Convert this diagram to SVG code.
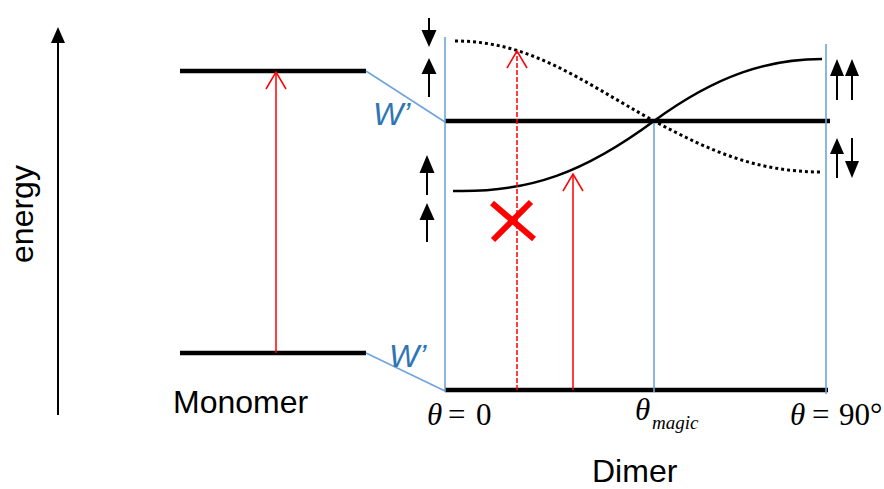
<svg xmlns="http://www.w3.org/2000/svg" width="884" height="489" viewBox="0 0 884 489">
<style>
.lvl{stroke:#000;stroke-width:4.5;fill:none}
.blue{stroke:#6fa4db;stroke-width:1.6;fill:none}
.red{stroke:#ff0000;stroke-width:1.5;fill:none}
.spin{stroke:#000;stroke-width:2;fill:none}
.head{fill:#000}
.lab{font-family:"Liberation Sans",Arial,sans-serif;font-size:32px;fill:#000}
.w{font-family:"Liberation Sans",Arial,sans-serif;font-style:italic;font-size:32px;fill:#2e75b6}
.th{font-family:"Liberation Serif","Times New Roman",serif;font-size:31px;fill:#000}
.it{font-style:italic}
</style>
<g id="axis">
<line x1="58" y1="415" x2="58" y2="40" class="spin"/>
<polygon points="58,27 51,43 65,43" class="head"/>
<text class="lab" transform="translate(33,214) rotate(-90)" text-anchor="middle">energy</text>
</g>
<g id="monomer">
<line x1="180" y1="71" x2="366" y2="71" class="lvl"/>
<line x1="180" y1="353" x2="366" y2="353" class="lvl"/>
<text class="lab" x="173" y="413">Monomer</text>
</g>
<g id="dimer-levels">
<line x1="445" y1="121" x2="830" y2="121" class="lvl"/>
<line x1="445" y1="390" x2="828" y2="390" class="lvl"/>
</g>
<g id="connectors">
<line x1="366" y1="71" x2="445" y2="122" class="blue"/>
<line x1="366" y1="353" x2="445" y2="391" class="blue"/>
<line x1="445" y1="37" x2="445" y2="392" class="blue"/>
<line x1="654" y1="123" x2="654" y2="392" class="blue"/>
<line x1="826" y1="44" x2="826" y2="394" class="blue"/>
</g>
<g id="labels-w">
<text class="w" x="373" y="125">W’</text>
<text class="w" x="389" y="367">W’</text>
</g>
<g id="curves">
<path d="M453,191 C530,193 585,172 654,121 C718,74 770,59 822,59" stroke="#000" stroke-width="2.5" fill="none"/>
<path d="M455,41 C530,41 580,80 654,121 C712,152 758,172 822,172" stroke="#000" stroke-width="3" stroke-dasharray="3 3" fill="none"/>
</g>
<g id="transitions">
<line x1="276" y1="353" x2="276" y2="72" class="red"/>
<polyline points="266,89 276,72 286,89" class="red"/>
<line x1="517" y1="390" x2="517" y2="51" class="red" stroke-dasharray="5 2"/>
<polyline points="507,68 517,51 527,68" class="red"/>
<line x1="573" y1="390" x2="573" y2="174" class="red"/>
<polyline points="563,191 573,174 583,191" class="red"/>
<g id="cross" stroke="#ff0000" stroke-width="6">
<line x1="492" y1="203" x2="534" y2="239"/>
<line x1="531" y1="202" x2="493" y2="240"/>
</g>
</g>
<g id="spins-left">
<line x1="429" y1="18" x2="429" y2="32" class="spin"/>
<polygon points="429,47 421.5,30 436.5,30" class="head"/>
<polygon points="429,58 421.5,74 436.5,74" class="head"/>
<line x1="429" y1="72" x2="429" y2="97" class="spin"/>
<polygon points="427,155 419.5,173 434.5,173" class="head"/>
<line x1="427" y1="171" x2="427" y2="195" class="spin"/>
<polygon points="427,203 419.5,220 434.5,220" class="head"/>
<line x1="427" y1="218" x2="427" y2="242" class="spin"/>
</g>
<g id="spins-right">
<polygon points="837,59 830,76 844,76" class="head"/>
<line x1="837" y1="74" x2="837" y2="100" class="spin"/>
<polygon points="852,59 845,76 859,76" class="head"/>
<line x1="852" y1="74" x2="852" y2="100" class="spin"/>
<polygon points="837,138 830,154 844,154" class="head"/>
<line x1="837" y1="152" x2="837" y2="178" class="spin"/>
<line x1="852" y1="138" x2="852" y2="163" class="spin"/>
<polygon points="852,178 845,161 859,161" class="head"/>
</g>
<g id="theta-labels">
<text class="th" y="425"><tspan class="it" x="427">θ</tspan><tspan x="448">=</tspan><tspan x="476">0</tspan></text>
<text class="th" y="420"><tspan class="it" x="635">θ</tspan><tspan class="it" x="652" y="429" font-size="19">magic</tspan></text>
<text class="th" y="425"><tspan class="it" x="790">θ</tspan><tspan x="812">=</tspan><tspan x="839">90°</tspan></text>
</g>
<g id="dimer-label">
<text class="lab" x="592" y="482">Dimer</text>
</g>
</svg>
